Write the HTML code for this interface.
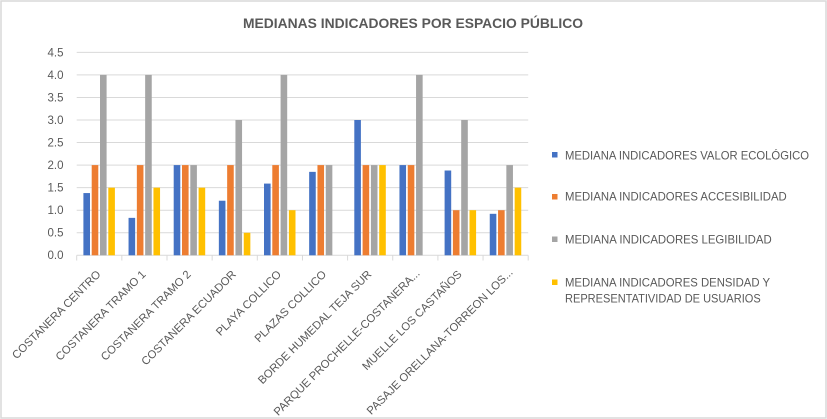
<!DOCTYPE html>
<html>
<head>
<meta charset="utf-8">
<style>
  html, body { margin: 0; padding: 0; background: #ffffff; }
  svg { display: block; }
  text { font-family: "Liberation Sans", "DejaVu Sans", sans-serif; fill: #595959; }
</style>
</head>
<body>
<svg width="827" height="419" viewBox="0 0 827 419" xmlns="http://www.w3.org/2000/svg">
  <rect x="0" y="0" width="827" height="419" fill="#ffffff"/>
  <rect x="1" y="1" width="825" height="417" fill="none" stroke="#d9d9d9" stroke-width="1.5"/>

  <!-- Title -->
  <text x="243" y="28" font-size="14" font-weight="bold" textLength="340" lengthAdjust="spacingAndGlyphs">MEDIANAS INDICADORES POR ESPACIO PÚBLICO</text>

  <!-- Gridlines -->
  <g stroke="#d9d9d9" stroke-width="1">
    <line x1="76.7" y1="52.35" x2="528.2" y2="52.35"/>
    <line x1="76.7" y1="74.9" x2="528.2" y2="74.9"/>
    <line x1="76.7" y1="97.45" x2="528.2" y2="97.45"/>
    <line x1="76.7" y1="120" x2="528.2" y2="120"/>
    <line x1="76.7" y1="142.55" x2="528.2" y2="142.55"/>
    <line x1="76.7" y1="165.1" x2="528.2" y2="165.1"/>
    <line x1="76.7" y1="187.65" x2="528.2" y2="187.65"/>
    <line x1="76.7" y1="210.2" x2="528.2" y2="210.2"/>
    <line x1="76.7" y1="232.75" x2="528.2" y2="232.75"/>
    <line x1="76.7" y1="255.3" x2="528.2" y2="255.3"/>
    <!-- ticks -->
    <line x1="76.7" y1="255.3" x2="76.7" y2="260.5"/>
    <line x1="121.85" y1="255.3" x2="121.85" y2="260.5"/>
    <line x1="167" y1="255.3" x2="167" y2="260.5"/>
    <line x1="212.15" y1="255.3" x2="212.15" y2="260.5"/>
    <line x1="257.3" y1="255.3" x2="257.3" y2="260.5"/>
    <line x1="302.45" y1="255.3" x2="302.45" y2="260.5"/>
    <line x1="347.6" y1="255.3" x2="347.6" y2="260.5"/>
    <line x1="392.75" y1="255.3" x2="392.75" y2="260.5"/>
    <line x1="437.9" y1="255.3" x2="437.9" y2="260.5"/>
    <line x1="483.05" y1="255.3" x2="483.05" y2="260.5"/>
    <line x1="528.2" y1="255.3" x2="528.2" y2="260.5"/>
  </g>

  <!-- Y axis labels -->
  <g font-size="11.5" text-anchor="end">
    <text x="63.5" y="56.5">4.5</text>
    <text x="63.5" y="79">4.0</text>
    <text x="63.5" y="101.5">3.5</text>
    <text x="63.5" y="124">3.0</text>
    <text x="63.5" y="146.5">2.5</text>
    <text x="63.5" y="169">2.0</text>
    <text x="63.5" y="191.5">1.5</text>
    <text x="63.5" y="214">1.0</text>
    <text x="63.5" y="236.5">0.5</text>
    <text x="63.5" y="259">0.0</text>
  </g>

  <!-- Bars: blue -->
  <g fill="#4472C4">
    <rect x="83.4" y="193.06" width="6.6" height="62.24"/>
    <rect x="128.55" y="217.87" width="6.6" height="37.43"/>
    <rect x="173.7" y="165.1" width="6.6" height="90.2"/>
    <rect x="218.85" y="200.73" width="6.6" height="54.57"/>
    <rect x="264.0" y="183.59" width="6.6" height="71.71"/>
    <rect x="309.15" y="171.86" width="6.6" height="83.44"/>
    <rect x="354.3" y="120" width="6.6" height="135.3"/>
    <rect x="399.45" y="165.1" width="6.6" height="90.2"/>
    <rect x="444.6" y="170.51" width="6.6" height="84.79"/>
    <rect x="489.75" y="213.81" width="6.6" height="41.49"/>
  </g>
  <!-- Bars: orange -->
  <g fill="#ED7D31">
    <rect x="91.7" y="165.1" width="6.6" height="90.2"/>
    <rect x="136.85" y="165.1" width="6.6" height="90.2"/>
    <rect x="182.0" y="165.1" width="6.6" height="90.2"/>
    <rect x="227.15" y="165.1" width="6.6" height="90.2"/>
    <rect x="272.3" y="165.1" width="6.6" height="90.2"/>
    <rect x="317.45" y="165.1" width="6.6" height="90.2"/>
    <rect x="362.6" y="165.1" width="6.6" height="90.2"/>
    <rect x="407.75" y="165.1" width="6.6" height="90.2"/>
    <rect x="452.9" y="210.2" width="6.6" height="45.1"/>
    <rect x="498.05" y="210.2" width="6.6" height="45.1"/>
  </g>
  <!-- Bars: gray -->
  <g fill="#A5A5A5">
    <rect x="100.0" y="74.9" width="6.6" height="180.4"/>
    <rect x="145.15" y="74.9" width="6.6" height="180.4"/>
    <rect x="190.3" y="165.1" width="6.6" height="90.2"/>
    <rect x="235.45" y="120" width="6.6" height="135.3"/>
    <rect x="280.6" y="74.9" width="6.6" height="180.4"/>
    <rect x="325.75" y="165.1" width="6.6" height="90.2"/>
    <rect x="370.9" y="165.1" width="6.6" height="90.2"/>
    <rect x="416.05" y="74.9" width="6.6" height="180.4"/>
    <rect x="461.2" y="120" width="6.6" height="135.3"/>
    <rect x="506.35" y="165.1" width="6.6" height="90.2"/>
  </g>
  <!-- Bars: yellow -->
  <g fill="#FFC000">
    <rect x="108.3" y="187.65" width="6.6" height="67.65"/>
    <rect x="153.45" y="187.65" width="6.6" height="67.65"/>
    <rect x="198.6" y="187.65" width="6.6" height="67.65"/>
    <rect x="243.75" y="232.75" width="6.6" height="22.55"/>
    <rect x="288.9" y="210.2" width="6.6" height="45.1"/>
    <rect x="379.2" y="165.1" width="6.6" height="90.2"/>
    <rect x="469.5" y="210.2" width="6.6" height="45.1"/>
    <rect x="514.65" y="187.65" width="6.6" height="67.65"/>
  </g>

  <!-- Category labels -->
  <g font-size="11.3" text-anchor="end">
    <text transform="translate(101.3,275) rotate(-45)">COSTANERA CENTRO</text>
    <text transform="translate(146.4,275) rotate(-45)">COSTANERA TRAMO 1</text>
    <text transform="translate(191.6,275) rotate(-45)">COSTANERA TRAMO 2</text>
    <text transform="translate(236.7,275) rotate(-45)">COSTANERA ECUADOR</text>
    <text transform="translate(281.9,275) rotate(-45)">PLAYA COLLICO</text>
    <text transform="translate(327.0,275) rotate(-45)">PLAZAS COLLICO</text>
    <text transform="translate(372.2,275) rotate(-45)">BORDE HUMEDAL TEJA SUR</text>
    <text transform="translate(420.5,274) rotate(-45)">PARQUE PROCHELLE-COSTANERA...</text>
    <text transform="translate(462.5,275) rotate(-45)">MUELLE LOS CASTAÑOS</text>
    <text transform="translate(513.5,273) rotate(-45)">PASAJE ORELLANA-TORREON LOS...</text>
  </g>

  <!-- Legend -->
  <rect x="552" y="152" width="5.5" height="5.5" fill="#4472C4"/>
  <rect x="552" y="194" width="5.5" height="5.5" fill="#ED7D31"/>
  <rect x="552" y="236.5" width="5.5" height="5.5" fill="#A5A5A5"/>
  <rect x="552" y="279.5" width="5.5" height="5.5" fill="#FFC000"/>
  <g font-size="12">
    <text x="565" y="159.3" textLength="244" lengthAdjust="spacingAndGlyphs">MEDIANA INDICADORES VALOR ECOLÓGICO</text>
    <text x="565" y="200.7" textLength="221.7" lengthAdjust="spacingAndGlyphs">MEDIANA INDICADORES ACCESIBILIDAD</text>
    <text x="565" y="243.3" textLength="206.7" lengthAdjust="spacingAndGlyphs">MEDIANA INDICADORES LEGIBILIDAD</text>
    <text x="565" y="286.7" textLength="205" lengthAdjust="spacingAndGlyphs">MEDIANA INDICADORES DENSIDAD Y</text>
    <text x="565" y="302.7" textLength="195.7" lengthAdjust="spacingAndGlyphs">REPRESENTATIVIDAD DE USUARIOS</text>
  </g>
</svg>
</body>
</html>
